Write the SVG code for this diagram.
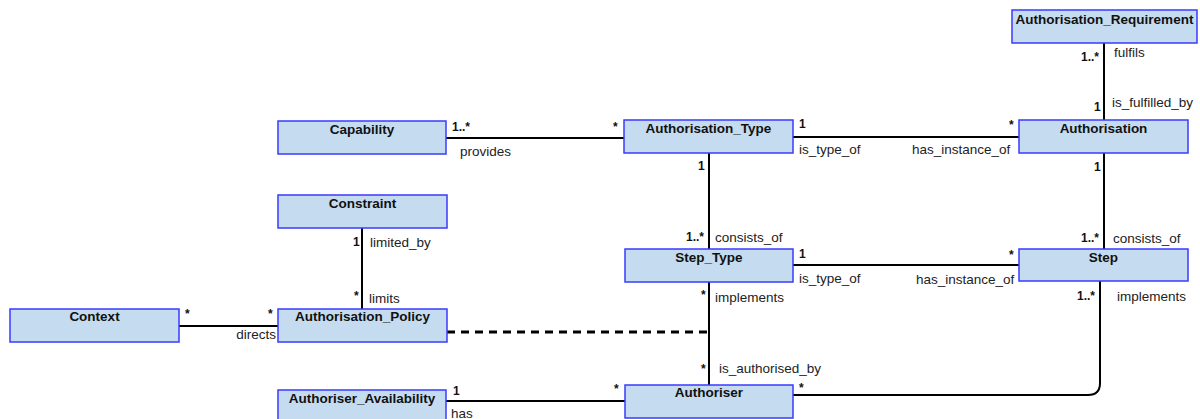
<svg xmlns="http://www.w3.org/2000/svg" width="1200" height="419" viewBox="0 0 1200 419">
  <style>
    .cls rect { fill: #c5dcf0; stroke: #3a3aff; stroke-width: 1.5; }
    .cls text { font-family: "Liberation Sans", Arial, sans-serif; font-size: 13.5px; font-weight: bold; fill: #111; text-anchor: middle; }
    .conn { fill: none; stroke: #000; stroke-width: 2; }
    .dash { stroke-dasharray: 8 6; stroke-width: 3; }
    .role { font-family: "Liberation Sans", Arial, sans-serif; font-size: 13.5px; fill: #222; }
    .mult { font-family: "Liberation Sans", Arial, sans-serif; font-size: 12px; font-weight: bold; fill: #111; }
  </style>
  <rect width="1200" height="419" fill="#fff"/>

  <!-- associations -->
  <g id="connectors">
    <path class="conn" d="M1104 43 V120"/>
    <path class="conn" d="M446 138 H624"/>
    <path class="conn" d="M793 137 H1019"/>
    <path class="conn" d="M709 153 V249"/>
    <path class="conn" d="M1104 153 V249"/>
    <path class="conn" d="M793 265 H1019"/>
    <path class="conn" d="M709 282 V385"/>
    <path class="conn" d="M1100 281 V383 Q1100 395 1088 395 H793"/>
    <path class="conn" d="M362 228 V309"/>
    <path class="conn" d="M179 326 H278"/>
    <path class="conn dash" d="M447 332 H708"/>
    <path class="conn" d="M446 401 H625"/>

    <!-- end labels -->
    <text class="mult" x="1081" y="61">1..*</text>
    <text class="role" x="1114" y="57">fulfils</text>
    <text class="mult" x="1094" y="111">1</text>
    <text class="role" x="1112" y="107">is_fulfilled_by</text>

    <text class="mult" x="452" y="131">1..*</text>
    <text class="mult" x="613" y="131">*</text>
    <text class="role" x="460" y="156">provides</text>

    <text class="mult" x="799" y="128">1</text>
    <text class="mult" x="1009" y="129">*</text>
    <text class="role" x="799" y="154">is_type_of</text>
    <text class="role" x="912" y="154">has_instance_of</text>

    <text class="mult" x="698" y="170">1</text>
    <text class="mult" x="686" y="241">1..*</text>
    <text class="role" x="715" y="242">consists_of</text>

    <text class="mult" x="1094" y="171">1</text>
    <text class="mult" x="1081" y="242">1..*</text>
    <text class="role" x="1113" y="243">consists_of</text>

    <text class="mult" x="799" y="258">1</text>
    <text class="mult" x="1009" y="259">*</text>
    <text class="role" x="799" y="283">is_type_of</text>
    <text class="role" x="916" y="284">has_instance_of</text>

    <text class="mult" x="701" y="299">*</text>
    <text class="role" x="715" y="302">implements</text>
    <text class="mult" x="701" y="373">*</text>
    <text class="role" x="719" y="373">is_authorised_by</text>

    <text class="mult" x="1077" y="300">1..*</text>
    <text class="role" x="1117" y="301">implements</text>
    <text class="mult" x="799" y="392">*</text>

    <text class="mult" x="453" y="395">1</text>
    <text class="mult" x="614" y="393">*</text>
    <text class="role" x="451" y="418">has</text>

    <text class="mult" x="353" y="246">1</text>
    <text class="role" x="370" y="247">limited_by</text>
    <text class="mult" x="354" y="300">*</text>
    <text class="role" x="369" y="303">limits</text>

    <text class="mult" x="185" y="318">*</text>
    <text class="mult" x="268" y="318">*</text>
    <text class="role" x="276" y="339" text-anchor="end">directs</text>
  </g>

  <!-- classes -->
  <g id="authorisation-requirement" class="cls">
    <rect x="1012" y="10" width="185" height="33"/>
    <text x="1104.5" y="24">Authorisation_Requirement</text>
  </g>
  <g id="capability" class="cls">
    <rect x="278" y="121" width="168" height="33"/>
    <text x="362" y="134">Capability</text>
  </g>
  <g id="authorisation-type" class="cls">
    <rect x="624" y="120" width="169" height="33"/>
    <text x="708.5" y="133">Authorisation_Type</text>
  </g>
  <g id="authorisation" class="cls">
    <rect x="1019" y="120" width="169" height="33"/>
    <text x="1103.5" y="133">Authorisation</text>
  </g>
  <g id="constraint" class="cls">
    <rect x="278" y="195" width="169" height="33"/>
    <text x="362.5" y="208">Constraint</text>
  </g>
  <g id="step-type" class="cls">
    <rect x="625" y="249" width="168" height="33"/>
    <text x="709" y="262">Step_Type</text>
  </g>
  <g id="step" class="cls">
    <rect x="1019" y="249" width="169" height="32"/>
    <text x="1103.5" y="262">Step</text>
  </g>
  <g id="context" class="cls">
    <rect x="10" y="309" width="169" height="33"/>
    <text x="94.5" y="321">Context</text>
  </g>
  <g id="authorisation-policy" class="cls">
    <rect x="278" y="309" width="169" height="33"/>
    <text x="362.5" y="321">Authorisation_Policy</text>
  </g>
  <g id="authoriser-availability" class="cls">
    <rect x="278" y="390" width="168" height="33"/>
    <text x="362" y="403">Authoriser_Availability</text>
  </g>
  <g id="authoriser" class="cls">
    <rect x="625" y="385" width="168" height="33"/>
    <text x="709" y="397">Authoriser</text>
  </g>
</svg>
